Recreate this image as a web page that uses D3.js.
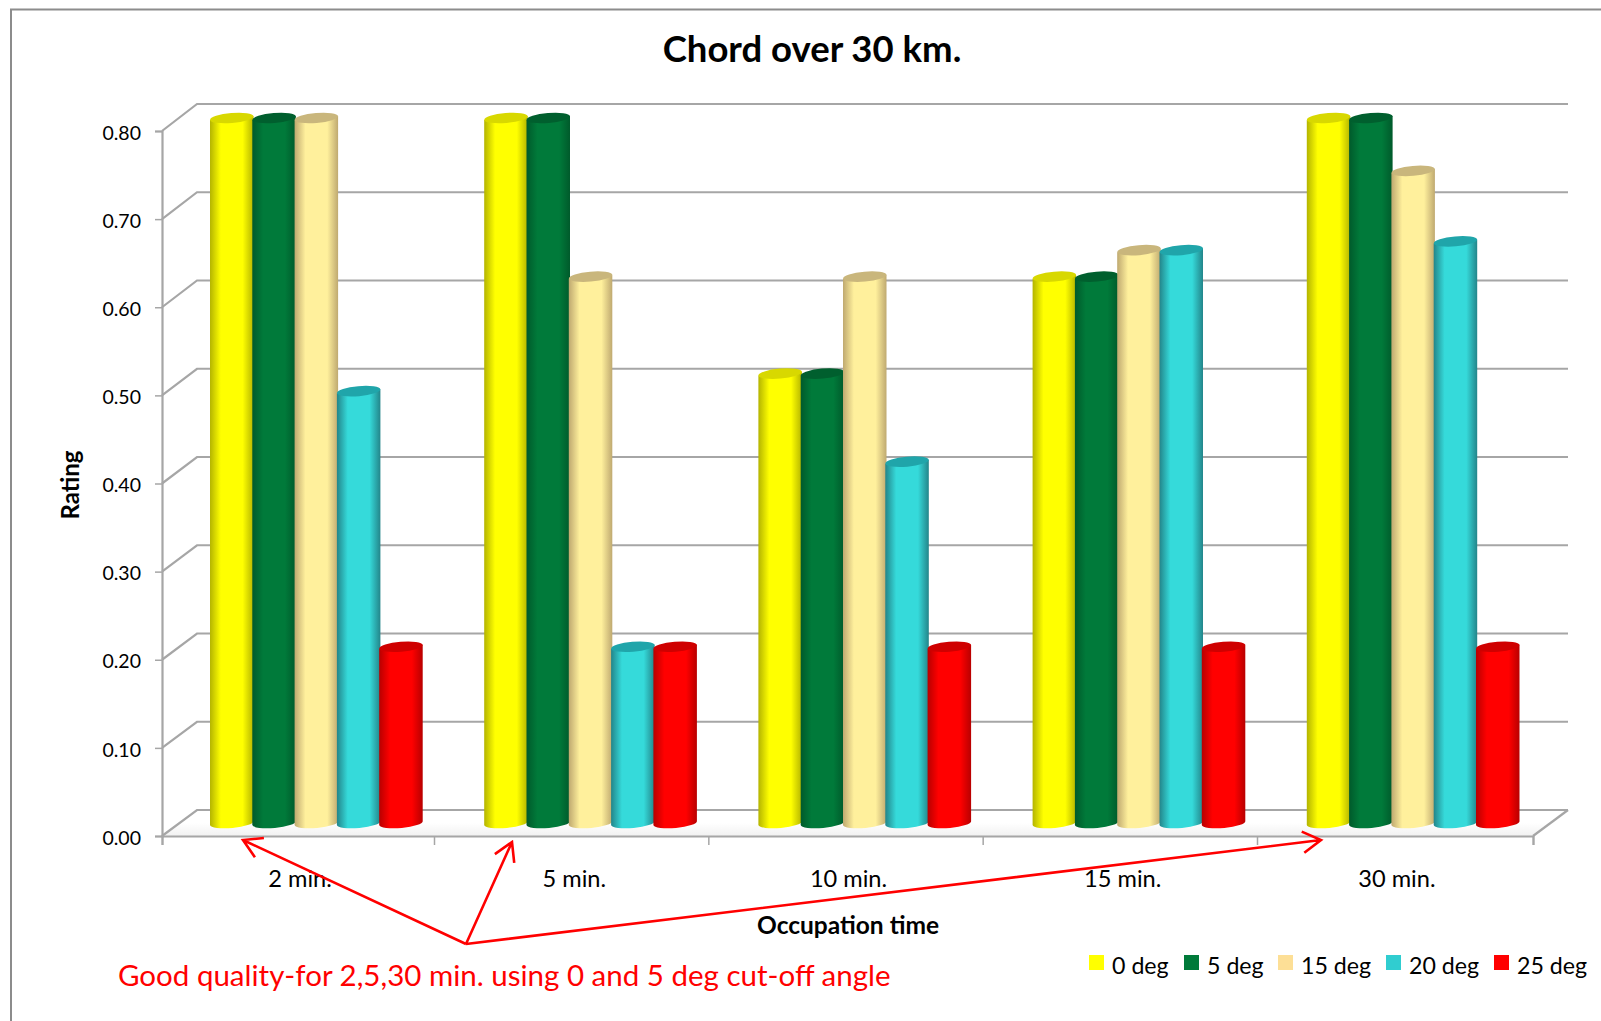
<!DOCTYPE html>
<html><head><meta charset="utf-8">
<script src="https://cdn.jsdelivr.net/npm/d3@7/dist/d3.min.js"></script>
<style>html,body{margin:0;padding:0;background:#fff}svg{display:block}text{font-family:Lato,"Open Sans",sans-serif;fill:#000}</style>
</head><body><svg id="c" width="1601" height="1021"></svg>
<script>
const categories = ["2 min.","5 min.","10 min.","15 min.","30 min."];
const seriesNames = ["0 deg","5 deg","15 deg","20 deg","25 deg"];
const deg0  = [0.80,0.80,0.51,0.62,0.80];
const deg5  = [0.80,0.80,0.51,0.62,0.80];
const deg15 = [0.80,0.62,0.62,0.65,0.74];
const deg20 = [0.49,0.20,0.41,0.65,0.66];
const deg25 = [0.20,0.20,0.20,0.20,0.20];
const yTicks = [0,0.1,0.2,0.3,0.4,0.5,0.6,0.7,0.8];
const allSeries = [deg0,deg5,deg15,deg20,deg25];
const centerColors = ["#ffff00","#007a3a","#fff09c","#35dada","#ff0000"];
const edgeColors   = ["#b4b400","#005a2b","#bfa970","#23858a","#b80000"];
const topColors    = ["#d8d800","#005f2e","#c9b67c","#20a5aa","#cf0000"];
const legendColors = ["#ffff00","#007a3a","#fddf96","#30cdd0","#ff0000"];

const svg = d3.select("#c");
const GRID = "#a6a6a6";
const front = {l:162,r:1533}, back = {l:197,r:1568};
const yFront = d3.scaleLinear().domain([0,0.8]).range([836,131]);
const yBack  = d3.scaleLinear().domain([0,0.8]).range([810,104]);
const yBar   = d3.scaleLinear().domain([0,0.8]).range([823,118]);
const xCat = d3.scaleBand().domain(categories).range([front.l,front.r]);
const xSer = d3.scaleBand().domain(seriesNames).range([48,259.5]);

// frame
svg.append("path").attr("d","M11,1021V9.5H1601").attr("fill","none").attr("stroke","#8c8c8c").attr("stroke-width",2);

// defs
const defs = svg.append("defs");
seriesNames.forEach((s,i)=>{
  const g = defs.append("linearGradient").attr("id","g"+i);
  [[0,edgeColors[i]],[0.25,centerColors[i]],[0.75,centerColors[i]],[1,edgeColors[i]]].forEach(([o,c])=>g.append("stop").attr("offset",o).attr("stop-color",c));
});
const fg = defs.append("linearGradient").attr("id","floor").attr("x1",0).attr("x2",0).attr("y1",0).attr("y2",1);
fg.append("stop").attr("offset",0.5).attr("stop-color","#fff");
fg.append("stop").attr("offset",1).attr("stop-color","#f1f1f1");

// floor
svg.append("path").attr("d",`M${front.l},${yFront(0)}L${back.l},${yBack(0)}H${back.r}L${front.r},${yFront(0)}Z`).attr("fill","url(#floor)");

// walls
const grid = svg.append("g").attr("fill","none").attr("stroke",GRID).attr("stroke-width",2.2);
yTicks.forEach(t=>{
  grid.append("path").attr("d",`M${front.l},${yFront(t)}L${back.l},${yBack(t)}H${back.r}`);
});
grid.append("path").attr("d",`M${front.r},${yFront(0)}L${back.r},${yBack(0)}`);

// axes
const yAxis = svg.append("g").attr("transform",`translate(${front.l},0)`)
  .call(d3.axisLeft(yFront).tickValues(yTicks).tickFormat(d3.format(".2f")).tickSize(7).tickPadding(14));
const xEdges = d3.scaleLinear().domain([0,1,4,5]).range([front.l,434,1257,front.r]);
const xAxis = svg.append("g").attr("transform",`translate(0,${yFront(0)})`)
  .call(d3.axisBottom(xEdges).tickValues(d3.range(6)).tickFormat("").tickSize(9));
[yAxis,xAxis].forEach(a=>{a.select(".domain").attr("stroke",GRID).attr("stroke-width",2.2);a.selectAll("line").attr("stroke",GRID).attr("stroke-width",1.5);});
yAxis.selectAll("text").attr("font-size",19.5).attr("font-family","Lato").attr("fill","#000").attr("dy","0.42em");

// cylinders
const RY=5, DY=2;
const bars = svg.append("g");
categories.forEach((c,ci)=>{
  seriesNames.forEach((s,si)=>{
    const x0 = xCat(c)+xSer(s), w = xSer.bandwidth()+1.2, x1 = x0+w, rx=w/2;
    const yt = yBar(allSeries[si][ci]), yb = yBar(0);
    bars.append("path")
      .attr("d",`M${x0},${yt+DY}L${x0},${yb+DY}A${rx},${RY} -5 0 0 ${x1},${yb-DY}L${x1},${yt-DY}Z`)
      .attr("fill",`url(#g${si})`);
    bars.append("ellipse").attr("cx",(x0+x1)/2).attr("cy",yt).attr("rx",rx).attr("ry",RY)
      .attr("transform",`rotate(-5 ${(x0+x1)/2} ${yt})`).attr("fill",topColors[si]);
  });
});

// text
svg.append("text").attr("x",812).attr("y",62).attr("text-anchor","middle").attr("font-size",36.5).attr("font-weight",700).text("Chord over 30 km.");
svg.append("text").attr("transform","translate(79,485) rotate(-90)").attr("text-anchor","middle").attr("font-size",24).attr("font-weight",700).text("Rating");
svg.append("text").attr("x",848).attr("y",934).attr("text-anchor","middle").attr("font-size",24.5).attr("font-weight",700).text("Occupation time");
categories.forEach(c=>{
  svg.append("text").attr("x",xCat(c)+xCat.bandwidth()/2+1).attr("y",887).attr("text-anchor","middle").attr("font-size",23.6).text(c);
});

// legend
const legendSquareX=[1089,1184,1278,1386,1494];
seriesNames.forEach((s,i)=>{
  svg.append("rect").attr("x",legendSquareX[i]).attr("y",955).attr("width",15).attr("height",15).attr("fill",legendColors[i]);
  svg.append("text").attr("x",legendSquareX[i]+23).attr("y",974).attr("font-size",23.2).text(s);
});

// annotation
const apex=[466,944];
const targets=[[243,840],[512,842],[1321,840]];
const red="#ff0000";
function arrow(t){
  const a=Math.atan2(t[1]-apex[1],t[0]-apex[0]), L=21, sp=0.53;
  const h=k=>`${t[0]-L*Math.cos(a+k)},${t[1]-L*Math.sin(a+k)}`;
  svg.append("path").attr("d",`M${apex}L${t}M${h(sp)}L${t}L${h(-sp)}`).attr("fill","none").attr("stroke",red).attr("stroke-width",2.6);
}
targets.forEach(arrow);
svg.append("text").attr("x",118).attr("y",986).attr("font-size",29.5).style("fill",red).text("Good quality-for 2,5,30 min. using 0 and 5 deg cut-off angle");
</script></body></html>
